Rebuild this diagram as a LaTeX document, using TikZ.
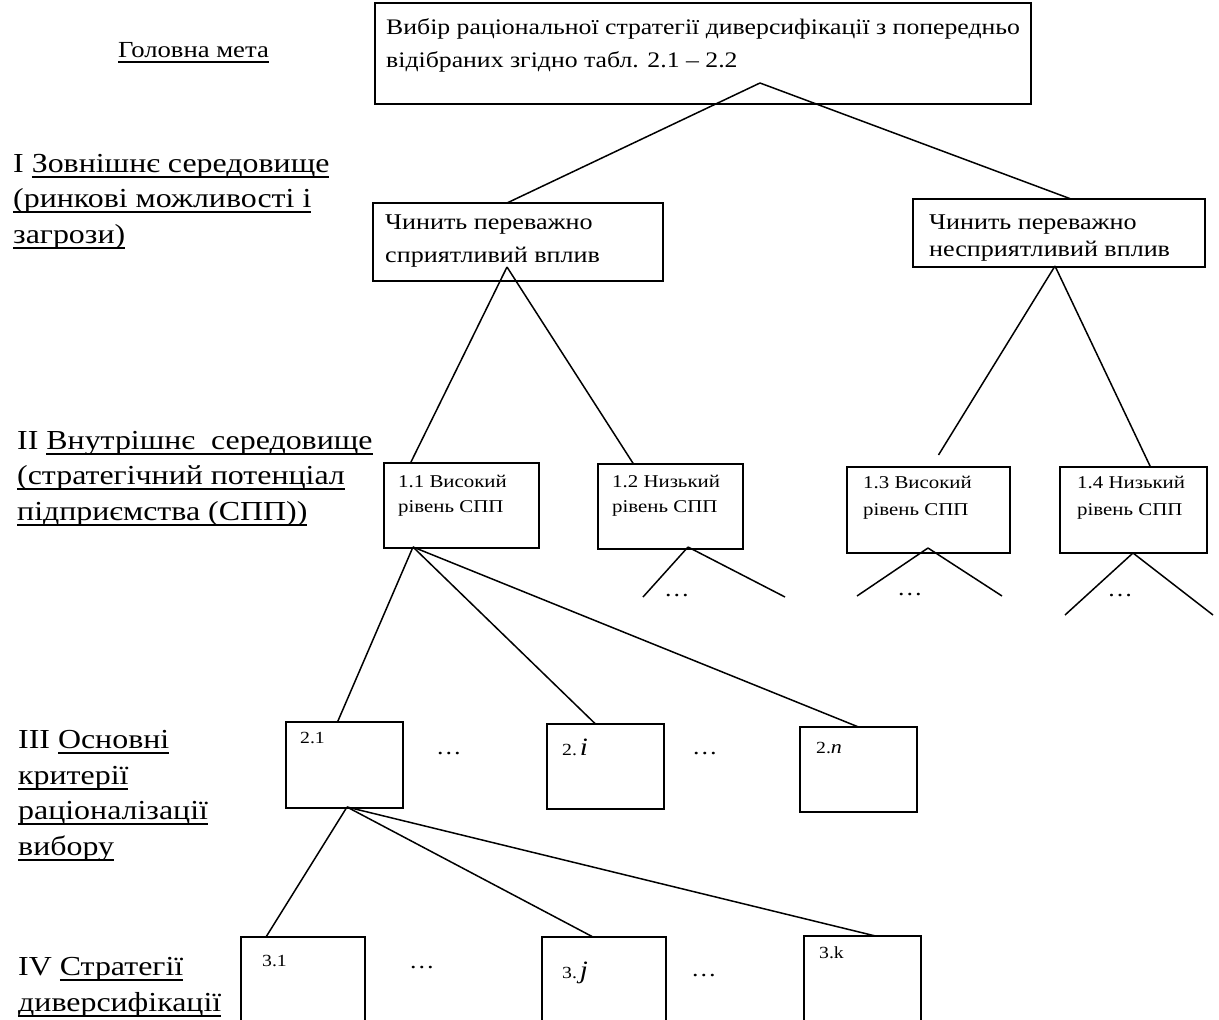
\documentclass[tikz,border=0pt]{standalone}
\usepackage{fontspec}
\setmainfont[FakeStretch=1.16]{Liberation Serif}
\usetikzlibrary{positioning,calc}
\newsavebox{\ulinedbox}
\newcommand{\ulined}[1]{\sbox\ulinedbox{#1}\rlap{\rule[-5.5pt]{\wd\ulinedbox}{1.8pt}}\usebox\ulinedbox}
\tikzset{
  box/.style={draw, line width=1.8pt, anchor=north west, inner sep=0pt, outer sep=0pt},
  boxtext/.style={anchor=base west, inner sep=0pt, align=left},
  leveltext/.style={anchor=base west, inner sep=0pt, align=left, font=\fontsize{27.5}{35.5}\selectfont},
  dots/.style={anchor=base, inner sep=0pt, font=\fontsize{22}{22}\selectfont},
  link/.style={line width=1.5pt}
}

\begin{document}
\begin{tikzpicture}[x=1pt,y=-1pt]
  \clip (0,0) rectangle (1219,1020);
  \node[leveltext,font=\fontsize{23}{30}\selectfont] (lvl0) at (118,57) {\ulined{Головна мета}};
  \node[leveltext] (lvl1) at (13,243) {I \ulined{Зовнішнє середовище}\\\ulined{(ринкові можливості і}\\\ulined{загрози)}};
  \node[leveltext] (lvl2) at (17,520) {II \ulined{Внутрішнє~~середовище}\\\ulined{(стратегічний потенціал}\\\ulined{підприємства (СПП))}};
  \node[leveltext] (lvl3) at (18,855) {III \ulined{Основні}\\\ulined{критерії}\\\ulined{раціоналізації}\\\ulined{вибору}};
  \node[leveltext] (lvl4) at (18,1011) {IV \ulined{Стратегії}\\\ulined{диверсифікації}};

  \node[box,minimum width=656,minimum height=101] (goal) at (375,3) {};
  \node[box,minimum width=290,minimum height=78] (fav) at (373,203) {};
  \node[box,minimum width=292,minimum height=68] (unfav) at (913,199) {};
  \node[box,minimum width=155,minimum height=85] (s11) at (384,463) {};
  \node[box,minimum width=145,minimum height=85] (s12) at (598,464) {};
  \node[box,minimum width=163,minimum height=86] (s13) at (847,467) {};
  \node[box,minimum width=147,minimum height=86] (s14) at (1060,467) {};
  \node[box,minimum width=117,minimum height=86] (c21) at (286,722) {};
  \node[box,minimum width=117,minimum height=85] (c2i) at (547,724) {};
  \node[box,minimum width=117,minimum height=85] (c2n) at (800,727) {};
  \node[box,minimum width=124,minimum height=120] (d31) at (241,937) {};
  \node[box,minimum width=124,minimum height=120] (d3j) at (542,937) {};
  \node[box,minimum width=117,minimum height=120] (d3k) at (804,936) {};

  \node[boxtext,font=\fontsize{22.2}{33}\selectfont] (goaltxt) at ($(goal.north west)+(11,64)$) {Вибір раціональної стратегії диверсифікації з попередньо\\відібраних згідно табл. 2.1 -- 2.2};
  \node[boxtext,font=\fontsize{22.5}{33}\selectfont] (favtxt) at ($(fav.north west)+(12,59)$) {Чинить переважно\\сприятливий вплив};
  \node[boxtext,font=\fontsize{22.5}{27}\selectfont] (unfavtxt) at ($(unfav.north west)+(16,57)$) {Чинить переважно\\несприятливий вплив};
  \node[boxtext,font=\fontsize{18}{25}\selectfont] (s11txt) at ($(s11.north west)+(14,49)$) {1.1 Високий\\рівень СПП};
  \node[boxtext,font=\fontsize{18}{25}\selectfont] (s12txt) at ($(s12.north west)+(14,48)$) {1.2 Низький\\рівень СПП};
  \node[boxtext,font=\fontsize{18}{27}\selectfont] (s13txt) at ($(s13.north west)+(16,48)$) {1.3 Високий\\рівень СПП};
  \node[boxtext,font=\fontsize{18}{27}\selectfont] (s14txt) at ($(s14.north west)+(17,48)$) {1.4 Низький\\рівень СПП};
  \node[boxtext,font=\fontsize{17}{19}\selectfont] (c21txt) at ($(c21.north west)+(14,21)$) {2.1};
  \node[boxtext,font=\fontsize{17}{19}\selectfont] (c2itxt) at ($(c2i.north west)+(15,31)$) {2.\,{\fontsize{25}{29}\selectfont\itshape i}};
  \node[boxtext,font=\fontsize{17}{19}\selectfont] (c2ntxt) at ($(c2n.north west)+(16,26)$) {2.{\fontsize{19}{22}\selectfont\itshape n}};
  \node[boxtext,font=\fontsize{17}{19}\selectfont] (d31txt) at ($(d31.north west)+(21,29)$) {3.1};
  \node[boxtext,font=\fontsize{17}{19}\selectfont] (d3jtxt) at ($(d3j.north west)+(20,41)$) {3.\,{\fontsize{25}{29}\selectfont\itshape j}};
  \node[boxtext,font=\fontsize{17}{19}\selectfont] (d3ktxt) at ($(d3k.north west)+(15,22)$) {3.k};

  \node[dots] (dots2a) at (449,754) {…};
  \node[dots] (dots2b) at (705,754) {…};
  \node[dots] (dots3a) at (422,968) {…};
  \node[dots] (dots3b) at (704,976) {…};
  \node[dots] (dots12) at (677,596) {…};
  \node[dots] (dots13) at (910,595) {…};
  \node[dots] (dots14) at (1120,596) {…};

  \coordinate (goaltip) at ($(goal.south west)+(385,-21)$);
  \coordinate (favtip) at ($(fav.south west)+(134,-14)$);
  \coordinate (unfavtip) at ($(unfav.south west)+(142,-1)$);
  \coordinate (tip11) at ($(s11.south west)+(29,-1)$);
  \coordinate (tip12) at ($(s12.south west)+(90,-2)$);
  \coordinate (tip13) at ($(s13.south west)+(81,-5)$);
  \coordinate (tip14) at ($(s14.south west)+(73,0)$);
  \coordinate (tip21) at ($(c21.south west)+(61,-1)$);
  \coordinate (end13) at ($(s13.north)+(10,-12)$);
  \coordinate (end12l) at (643,597);
  \coordinate (end12r) at (785,597);
  \coordinate (end13l) at (857,596);
  \coordinate (end13r) at (1002,596);
  \coordinate (end14l) at (1065,615);
  \coordinate (end14r) at (1213,615);

  \path[link] (goaltip)
      edge ($(fav.north)+(-11,0)$)
      edge ($(unfav.north)+(12,0)$)
    (favtip)
      edge ($(s11.north)+(-51,0)$)
      edge ($(s12.north)+(-37,0)$)
    (unfavtip)
      edge (end13)
      edge ($(s14.north)+(17,0)$)
    (tip11)
      edge ($(c21.north)+(-7,0)$)
      edge ($(c2i.north)+(-10,0)$)
      edge (c2n.north)
    (tip12) edge (end12l) edge (end12r)
    (tip13) edge (end13l) edge (end13r)
    (tip14) edge (end14l) edge (end14r)
    (tip21)
      edge ($(d31.north)+(-37,0)$)
      edge ($(d3j.north)+(-11,0)$)
      edge ($(d3k.north)+(13,0)$);
\end{tikzpicture}
\end{document}
